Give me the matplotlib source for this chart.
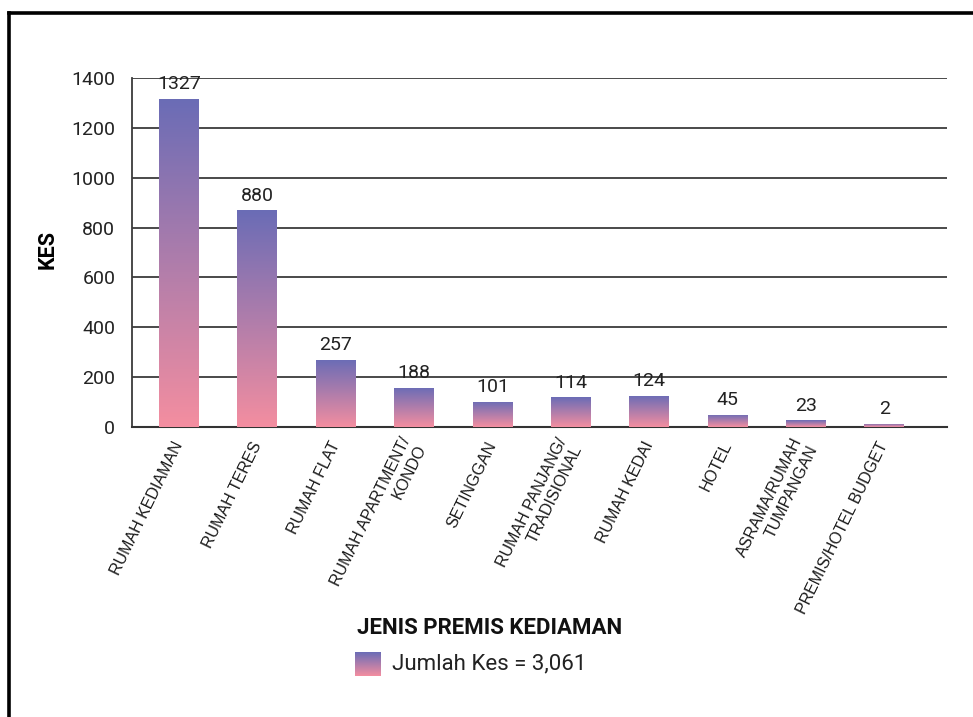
import numpy as np
import matplotlib
matplotlib.use('Agg')
from matplotlib import pyplot as plt
from matplotlib.colors import LinearSegmentedColormap
from matplotlib.lines import Line2D

categories = ['RUMAH KEDIAMAN', 'RUMAH TERES', 'RUMAH FLAT', 'RUMAH APARTMENT/\nKONDO',
              'SETINGGAN', 'RUMAH PANJANG/\nTRADISIONAL', 'RUMAH KEDAI', 'HOTEL',
              'ASRAMA/RUMAH\nTUMPANGAN', 'PREMIS/HOTEL BUDGET']
# bar heights as drawn in the picture
bar_heights = [1316, 870, 269, 157, 101, 120, 126, 50, 26, 13]
# value labels printed above the bars
value_labels = ['1327', '880', '257', '188', '101', '114', '124', '45', '23', '2']
y_ticks = [0, 200, 400, 600, 800, 1000, 1200, 1400]
legend_label = 'Jumlah Kes = 3,061'

top_col = '#6a6cb6'
bot_col = '#f48ea0'
grad = LinearSegmentedColormap.from_list('grad', [bot_col, top_col])
grad_img = np.linspace(0, 1, 256).reshape(-1, 1)


def main():
    fig = plt.figure(figsize=(9.73, 7.17), dpi=100)
    ax = fig.add_axes([0.1357, 0.4045, 0.8376, 0.4867])

    x = np.arange(len(categories))
    bars = ax.bar(x, bar_heights, width=0.51, color='none', zorder=3)
    for rect in bars:
        x0 = rect.get_x()
        im = ax.imshow(grad_img, cmap=grad, origin='lower', aspect='auto',
                       extent=[x0, x0 + rect.get_width(), 0, rect.get_height()], zorder=3)
        im.set_clip_path(rect)

    for xi, h, lab in zip(x, bar_heights, value_labels):
        ax.annotate(lab, (xi, h), xytext=(0, 4), textcoords='offset points',
                    ha='center', va='bottom', fontsize=14, family='Roboto', color='#222222')

    ax.set_xlim(-0.6, 9.8)
    ax.set_ylim(0, 1400)
    ax.set_yticks(y_ticks)
    ax.set_yticklabels([str(v) for v in y_ticks], fontsize=14, family='Roboto', color='#222222')
    ax.grid(axis='y', color='#3c3c3c', linewidth=1.3, zorder=0)
    ax.set_axisbelow(True)
    ax.tick_params(axis='y', length=0, pad=12)
    ax.tick_params(axis='x', length=0, pad=11)
    ax.set_xticks(x)
    ax.set_xticklabels(categories, rotation=64, ha='right', va='center', rotation_mode='anchor',
                       multialignment='right', fontsize=11.5, family='Liberation Sans', color='#1a1a1a')

    for s in ['top', 'right']:
        ax.spines[s].set_visible(False)
    ax.spines['left'].set_color('#3c3c3c')
    ax.spines['left'].set_linewidth(1.3)
    ax.spines['bottom'].set_color('#333333')
    ax.spines['bottom'].set_linewidth(1.5)

    ax.set_ylabel('KES', fontsize=15.5, fontweight='bold', family='Roboto')
    ax.yaxis.set_label_coords(-0.090, 0.51)

    fig.text(0.5035, 0.124, 'JENIS PREMIS KEDIAMAN', ha='center', va='center',
             fontsize=16, fontweight='bold', family='Roboto', color='#111111')

    # legend swatch with the same gradient
    lax = fig.add_axes([355 / 973, 1 - 676 / 717, 26 / 973, 24 / 717])
    lax.imshow(grad_img, cmap=grad, origin='lower', aspect='auto')
    lax.axis('off')
    fig.text(392 / 973, 1 - 664 / 717, legend_label, ha='left', va='center',
             fontsize=16, family='Roboto', color='#222222')

    # frame (top and left edges only)
    fig.add_artist(Line2D([9 / 973, 1.0], [1 - 12.5 / 717, 1 - 12.5 / 717],
                          transform=fig.transFigure, color='black', linewidth=2.6))
    fig.add_artist(Line2D([9 / 973, 9 / 973], [1 - 12.5 / 717, 0],
                          transform=fig.transFigure, color='black', linewidth=2.6))

    fig.savefig('out.png', dpi=100)


if __name__ == '__main__':
    main()
